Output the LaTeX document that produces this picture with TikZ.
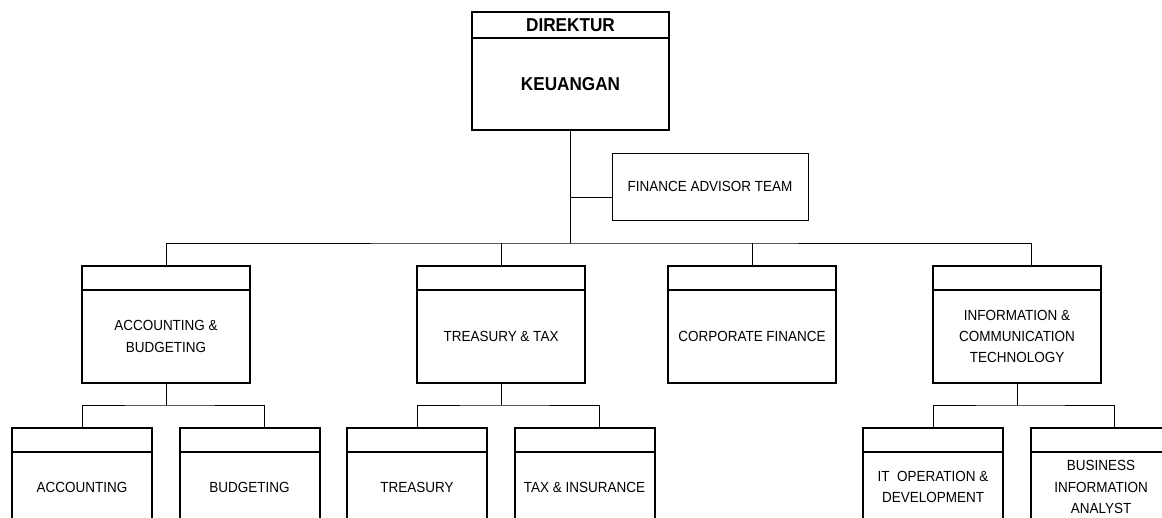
\documentclass[tikz,border=0pt]{standalone}
\usepackage{fontspec}
\setmainfont{Liberation Sans}[FakeStretch=0.92]
\begin{document}
\begin{tikzpicture}[x=0.75pt, y=-0.75pt,
  box/.style={draw, line width=1.5pt, inner sep=0pt, outer sep=0pt, align=center, font=\fontsize{11}{16}\selectfont},
  bosshead/.style={box, minimum width=147.75pt, minimum height=19.5pt, font=\fontsize{14}{17}\selectfont\bfseries},
  bossbody/.style={box, minimum width=147.75pt, minimum height=69pt, font=\fontsize{14}{17}\selectfont\bfseries},
  divhead/.style={box, minimum width=126pt, minimum height=18pt},
  divbody/.style={box, minimum width=126pt, minimum height=69.75pt},
  unithead/.style={box, minimum width=105pt, minimum height=18pt},
  unitbody/.style={box, minimum width=105pt, minimum height=52.5pt},
  link/.style={line width=0.75pt}]
\useasboundingbox (0,0) rectangle (1162,517);
\clip (0,0) rectangle (1162,517);

\node[bosshead] (DirHead) at (570.5, 25) {DIREKTUR};
\node[bossbody] (Dir) at (570.5, 84) {KEUANGAN};
\node[box, line width=0.75pt, minimum width=147pt, minimum height=50.25pt] (Advisor) at (710, 186.5) {FINANCE ADVISOR TEAM};

\node[divhead] (AccHead) at (166, 278) {};
\node[divbody] (Acc) at (166, 336.5) {ACCOUNTING \&\\BUDGETING};
\node[divhead] (TtHead) at (501, 278) {};
\node[divbody] (Tt) at (501, 336.5) {TREASURY \& TAX};
\node[divhead] (CfHead) at (752, 278) {};
\node[divbody] (Cf) at (752, 336.5) {CORPORATE FINANCE};
\node[divhead] (IctHead) at (1017, 278) {};
\node[divbody] (Ict) at (1017, 336.5) {INFORMATION \&\\COMMUNICATION\\TECHNOLOGY};

\node[unithead] (AcctHead) at (82, 440) {};
\node[unitbody] (Acct) at (82, 487) {ACCOUNTING};
\node[unithead] (BudHead) at (249.5, 440) {};
\node[unitbody] (Bud) at (249.5, 487) {BUDGETING};
\node[unithead] (TreHead) at (417, 440) {};
\node[unitbody] (Tre) at (417, 487) {TREASURY};
\node[unithead] (TaxHead) at (584.5, 440) {};
\node[unitbody] (Tax) at (584.5, 487) {TAX \& INSURANCE};
\node[unithead] (ItHead) at (933, 440) {};
\node[unitbody] (It) at (933, 487) {IT\ \ OPERATION \&\\DEVELOPMENT};
\node[unithead] (BiaHead) at (1101, 440) {};
\node[unitbody] (Bia) at (1101, 487) {BUSINESS\\INFORMATION\\ANALYST};

\coordinate (Bus) at (570.5, 243);
\coordinate (AccJoin) at (166, 405);
\coordinate (TtJoin) at (501, 405);
\coordinate (IctJoin) at (1017, 405);

\draw[link] (Dir.south) -- (Bus);
\draw[link] ([yshift=-8.6pt]Advisor.west) -- ([yshift=-8.6pt]Advisor.west -| Dir.south);
\draw[link] (AccHead.north) |- (Bus) -| ([xshift=10.5pt]IctHead.north);
\draw[link] (TtHead.north) -- (TtHead.north |- Bus);
\draw[link] (CfHead.north) -- (CfHead.north |- Bus);

\draw[link] (Acc.south) -- (AccJoin);
\draw[link] (AcctHead.north) |- (AccJoin) -| ([xshift=10.9pt]BudHead.north);
\draw[link] (Tt.south) -- (TtJoin);
\draw[link] (TreHead.north) |- (TtJoin) -| ([xshift=10.9pt]TaxHead.north);
\draw[link] (Ict.south) -- (IctJoin);
\draw[link] (ItHead.north) |- (IctJoin) -| ([xshift=9.75pt]BiaHead.north);
\end{tikzpicture}
\end{document}
